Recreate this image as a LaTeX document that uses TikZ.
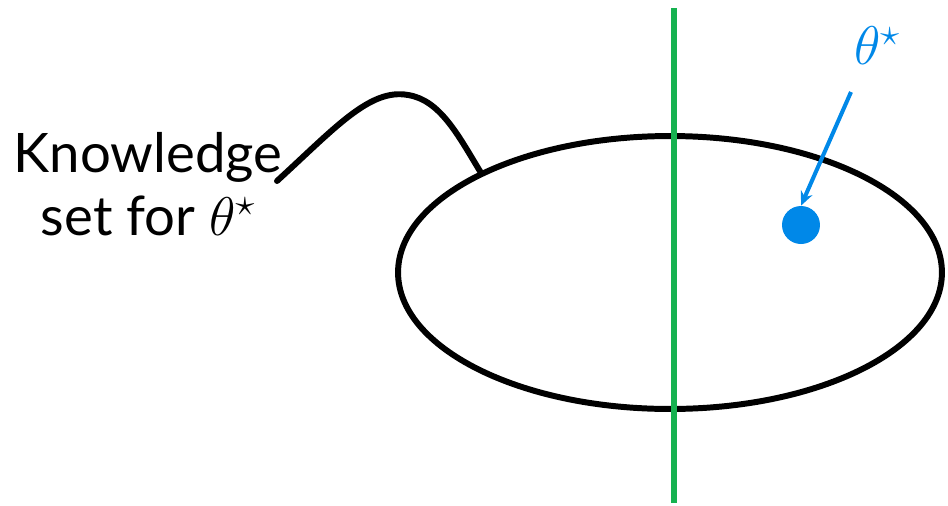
\RequirePackage{fix-cm}
\documentclass[tikz,border=0pt]{standalone}
\usepackage{amsmath,amssymb}
\usepackage{fontspec}
\setmainfont{Lato}
\usetikzlibrary{arrows.meta, positioning, calc, shapes.geometric}
\definecolor{setgreen}{RGB}{22,178,80}
\definecolor{ptblue}{RGB}{0,136,232}

\begin{document}
\begin{tikzpicture}[x=0.02cm, y=-0.02cm, >={Stealth[length=8pt, width=7pt]},
  every node/.style={font=\fontsize{31}{36}\selectfont},
  thickline/.style={line width=3.4pt, line cap=round}]
\useasboundingbox (0,0) rectangle (948,505);
\node[ellipse, draw, line width=3.4pt, inner sep=0pt, minimum width=10.88cm, minimum height=5.46cm] (kset) at (670,272.5) {};
\node[align=center] (know) at (148,184) {Knowledge\\set for $\theta^\star$};
\coordinate (hook) at (277,181);
\coordinate (peak) at (408,95);
\draw[thickline] (hook) .. controls (335,128) and (370,88) .. (peak)
  .. controls (440,100) and (458,135) .. (kset.152);
\coordinate (gtop) at (674,8);
\coordinate (gbot) at (674,503);
\draw[setgreen, line width=3.4pt] (gtop) -- (gbot);
\node[circle, fill=ptblue, inner sep=0pt, minimum size=0.76cm] (star) at (801,225) {};
\node[text=ptblue] (lab) at (877,46) {$\theta^\star$};
\draw[->, ptblue, line width=2.3pt] (851,92) -- (star.north);
\end{tikzpicture}
\end{document}
